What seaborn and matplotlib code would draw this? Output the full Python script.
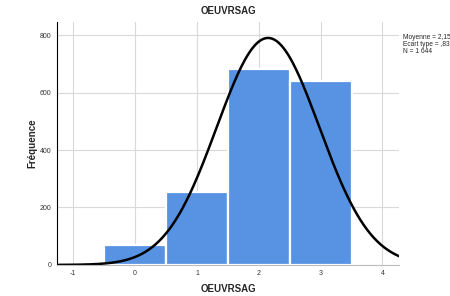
import matplotlib
matplotlib.use("Agg")
import matplotlib.pyplot as plt
import numpy as np
import pandas as pd
import seaborn as sns

# histogram data
valeurs = [0, 1, 2, 3]
frequences = [68, 254, 681, 641]
moyenne = 2.15
ecart_type = 0.83
n_total = 1644

xticks = [-1, 0, 1, 2, 3, 4]
yticks = [0, 200, 400, 600, 800]

sns.set_style("white")
plt.rcParams['font.family'] = ['Arial', 'Liberation Sans', 'DejaVu Sans']
plt.rcParams['axes.unicode_minus'] = False

df = pd.DataFrame({"OEUVRSAG": valeurs, "freq": frequences})

fig = plt.figure(figsize=(4.5, 2.96), dpi=100)
ax = fig.add_axes([0.127, 0.105, 0.76, 0.82])

ax.set_axisbelow(True)
ax.grid(True, color="#d9d9d9", linewidth=0.8)

sns.histplot(data=df, x="OEUVRSAG", weights="freq", discrete=True,
             color="#5893e3", alpha=1, edgecolor="white", linewidth=1.6, ax=ax)

# normal curve from mean / sd
xs = np.linspace(-1.26, 4.27, 300)
ys = n_total / (ecart_type * np.sqrt(2 * np.pi)) * np.exp(-0.5 * ((xs - moyenne) / ecart_type) ** 2)
ax.plot(xs, ys, color="black", linewidth=1.8)

ax.set_xlim(-1.26, 4.27)
ax.set_ylim(0, 845)
ax.set_xticks(xticks)
ax.set_yticks(yticks)
ax.tick_params(labelsize=5, length=0, pad=4, labelcolor="#333333")

for s in ["top", "right"]:
    ax.spines[s].set_visible(False)
ax.spines["left"].set_color("black")
ax.spines["bottom"].set_color("#bbbbbb")
ax.spines["left"].set_linewidth(0.8)

ax.set_title("OEUVRSAG", fontsize=7, fontweight="bold", pad=6)
ax.set_xlabel("OEUVRSAG", fontsize=7, fontweight="bold", labelpad=5)
ax.set_ylabel("Fréquence", fontsize=7, fontweight="bold", labelpad=2)

fig.text(0.895, 0.885, "Moyenne = 2,15\nEcart type = ,83\nN = 1 644",
         fontsize=4.8, va="top", ha="left", linespacing=0.95)

fig.savefig("out.png", dpi=100)
